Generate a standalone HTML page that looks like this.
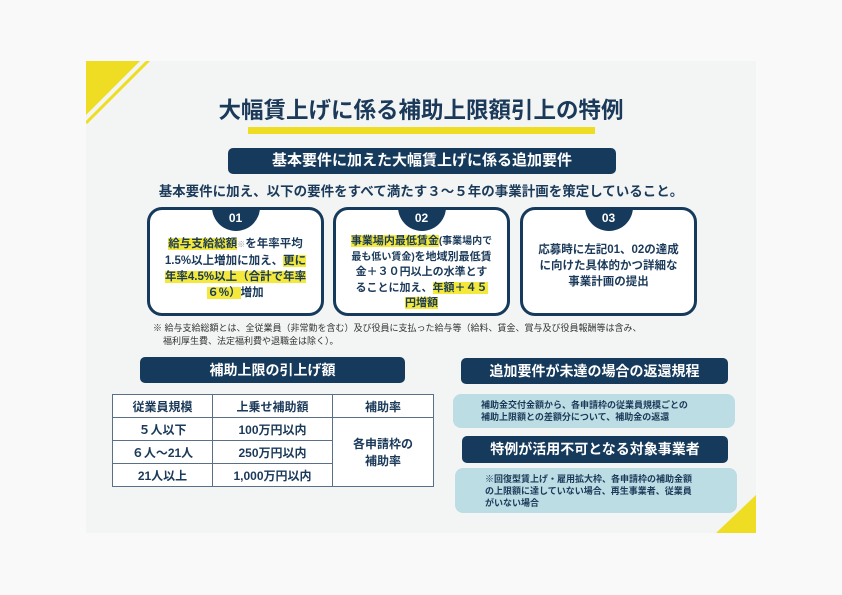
<!DOCTYPE html>
<html><head><meta charset="utf-8"><style>
*{margin:0;padding:0;box-sizing:border-box}
body{width:842px;height:595px;background:#f9f9f9;position:relative;overflow:hidden;font-family:"Liberation Sans","Noto Sans CJK JP",sans-serif;color:#1b3a5a;font-weight:bold}
.a{position:absolute}
.card{left:86px;top:61px;width:670px;height:472px;background:#f3f5f5}
.ban{background:#163a5c;color:#fff;border-radius:5px;text-align:center}
.box{border:3px solid #163a5c;border-radius:15px;background:#fff;top:207px;height:109px;width:177px}
.tab{position:absolute;left:50%;top:-3px;transform:translateX(-50%);width:48px;height:24px;background:#163a5c;border-radius:0 0 24px 24px;color:#fff;font-size:12px;text-align:center;line-height:22px}
.bt{position:absolute;left:4px;right:4px;top:26px;text-align:center;font-size:11.5px;line-height:16px}
.hl{background:#f4e93a}
.lb{background:#bcdde3;border-radius:8px;font-size:9px;line-height:12px;padding-left:28px}
table{border-collapse:collapse;font-size:12px}
td{border:1.5px solid #5a7088;text-align:center;height:23px;background:#fff}
</style></head><body>
<div class="a card"></div>
<svg class="a" style="left:86px;top:61px" width="70" height="70"><polygon points="0,0 54,0 0,54" fill="#eedd22"/><line x1="0" y1="62" x2="64" y2="-2" stroke="#eedd22" stroke-width="3"/></svg>
<svg class="a" style="left:716px;top:495px" width="40" height="38"><polygon points="0,38 40,0 40,38" fill="#eedd22"/></svg>
<div class="a" style="left:0;width:842px;top:93px;text-align:center;font-size:22.5px">大幅賃上げに係る補助上限額引上の特例</div>
<div class="a" style="left:248px;top:127px;width:347px;height:7px;background:#eedd22"></div>
<div class="a ban" style="left:228px;top:148px;width:388px;height:26px;font-size:15px;line-height:26px">基本要件に加えた大幅賃上げに係る追加要件</div>
<div class="a" style="left:0;width:842px;top:180px;text-align:center;font-size:13.5px">基本要件に加え、以下の要件をすべて満たす３～５年の事業計画を策定していること。</div>
<div class="a box" style="left:147px"><div class="tab">01</div><div class="bt"><span class="hl">給与支給総額</span><span style="font-size:8px;color:#999">※</span>を年率平均<br>1.5%以上増加に加え、<span class="hl">更に<br>年率4.5%以上（合計で年率<br>６%）</span>増加</div></div>
<div class="a box" style="left:333px"><div class="tab">02</div><div class="bt" style="font-size:11px;top:24px;line-height:15.5px"><span class="hl">事業場内最低賃金</span><span style="font-size:10px">(事業場内で<br>最も低い賃金)</span>を地域別最低賃<br>金＋３０円以上の水準とす<br>ることに加え、<span class="hl">年額＋４５<br>円増額</span></div></div>
<div class="a box" style="left:520px"><div class="tab">03</div><div class="bt" style="top:32px">応募時に左記01、02の達成<br>に向けた具体的かつ詳細な<br>事業計画の提出</div></div>
<div class="a" style="left:153px;top:322px;font-size:9px;line-height:13px;font-weight:normal;color:#333">※ 給与支給総額とは、全従業員（非常勤を含む）及び役員に支払った給与等（給料、賃金、賞与及び役員報酬等は含み、<br>&nbsp;&nbsp;&nbsp;&nbsp;福利厚生費、法定福利費や退職金は除く）。</div>
<div class="a ban" style="left:140px;top:357px;width:265px;height:26px;font-size:14px;line-height:26px">補助上限の引上げ額</div>
<table class="a" style="left:112px;top:394px;width:322px">
<tr><td style="width:100px">従業員規模</td><td style="width:120px">上乗せ補助額</td><td>補助率</td></tr>
<tr><td>５人以下</td><td>100万円以内</td><td rowspan="3">各申請枠の<br>補助率</td></tr>
<tr><td>６人～21人</td><td>250万円以内</td></tr>
<tr><td>21人以上</td><td>1,000万円以内</td></tr>
</table>
<div class="a ban" style="left:461px;top:358px;width:267px;height:26px;font-size:14px;line-height:26px">追加要件が未達の場合の返還規程</div>
<div class="a lb" style="left:453px;top:394px;width:282px;height:34px;padding-top:5px">補助金交付金額から、各申請枠の従業員規模ごとの<br>補助上限額との差額分について、補助金の返還</div>
<div class="a ban" style="left:462px;top:436px;width:266px;height:27px;font-size:14px;line-height:27px">特例が活用不可となる対象事業者</div>
<div class="a lb" style="left:455px;top:468px;width:282px;height:45px;padding-top:5px;padding-left:30px">※回復型賃上げ・雇用拡大枠、各申請枠の補助金額<br>の上限額に達していない場合、再生事業者、従業員<br>がいない場合</div>
</body></html>
